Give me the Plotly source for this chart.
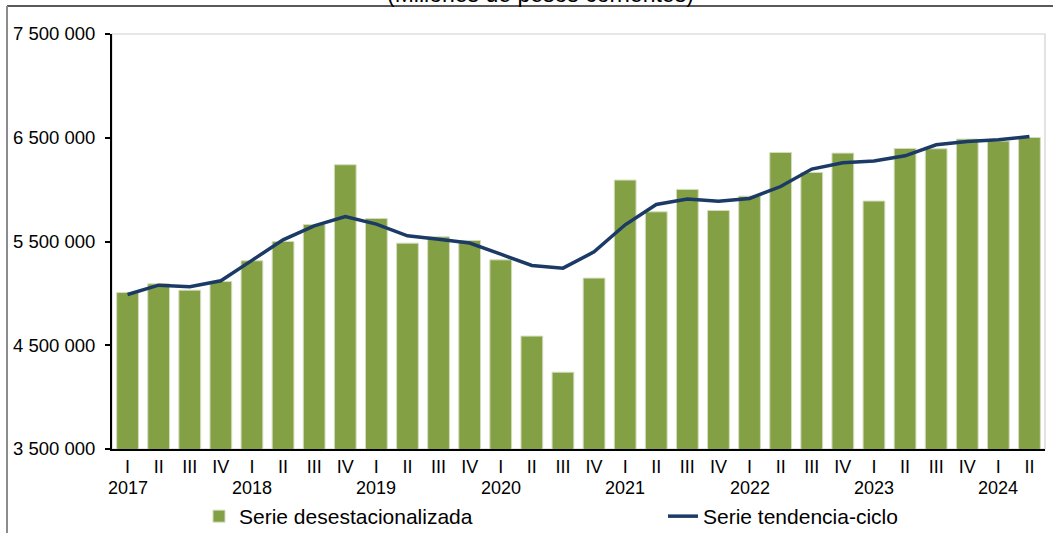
import plotly.graph_objects as go

quarters = ["I", "II", "III", "IV", "I", "II", "III", "IV", "I", "II", "III", "IV",
            "I", "II", "III", "IV", "I", "II", "III", "IV", "I", "II", "III", "IV",
            "I", "II", "III", "IV", "I", "II"]
years = ["2017", "2018", "2019", "2020", "2021", "2022", "2023", "2024"]

serie_desest = [5008000, 5092000, 5031000, 5114000, 5314000, 5500000, 5664000, 6240000,
                5722000, 5484000, 5545000, 5510000, 5323000, 4588000, 4240000, 5147000,
                6092000, 5786000, 6002000, 5799000, 5937000, 6358000, 6165000, 6352000,
                5890000, 6397000, 6394000, 6487000, 6468000, 6503000]
serie_tend = [4989000, 5079000, 5063000, 5121000, 5318000, 5516000, 5651000, 5741000,
              5667000, 5555000, 5522000, 5485000, 5378000, 5269000, 5243000, 5400000,
              5661000, 5857000, 5909000, 5889000, 5915000, 6030000, 6198000, 6259000,
              6275000, 6326000, 6432000, 6464000, 6480000, 6512000]

y_ticks = [3500000, 4500000, 5500000, 6500000, 7500000]
y_ticktext = ["3 500 000", "4 500 000", "5 500 000", "6 500 000", "7 500 000"]

FONT = "Liberation Sans, Arial, sans-serif"
GREEN = "#84A044"
NAVY = "#1C3A66"

n = len(quarters)
xs = list(range(n))
year_pos = [i for i, q in enumerate(quarters) if q == "I"]
boundaries = [p - 0.5 for p in year_pos]

fig = go.Figure()
fig.add_trace(go.Bar(
    x=xs, y=serie_desest, name="Serie desestacionalizada",
    marker=dict(color=GREEN, line=dict(color="#D3DDBE", width=1)),
    legend="legend",
))
fig.add_trace(go.Scatter(
    x=xs, y=serie_tend, name="Serie tendencia-ciclo", mode="lines",
    line=dict(color=NAVY, width=3.5),
    legend="legend2",
))

W, H = 1053, 533
L, R, T, B = 112, 8, 34, 84
pw, ph = W - L - R, H - T - B

def px_x(p):
    return (p - L) / pw

def px_y(p):
    return (H - B - p) / ph

annotations = [
    dict(x=p, y=px_y(488), xref="x", yref="paper", text=yr, showarrow=False,
         xanchor="center", yanchor="middle", font=dict(size=18, color="black", family=FONT))
    for p, yr in zip(year_pos, years)
]
annotations.append(dict(
    x=px_x(540), y=px_y(-6), xref="paper", yref="paper",
    text="(Millones de pesos corrientes)", showarrow=False,
    xanchor="center", yanchor="middle", font=dict(size=23, color="black", family=FONT)))

shapes = [
    dict(type="rect", xref="paper", yref="paper", x0=0, x1=1, y0=0, y1=1,
         line=dict(color="#D0D0D0", width=1.2), layer="below"),
    dict(type="line", xref="paper", yref="paper", x0=px_x(7), x1=px_x(1060),
         y0=px_y(6), y1=px_y(6), line=dict(color="#222222", width=1.5)),
    dict(type="line", xref="paper", yref="paper", x0=px_x(7), x1=px_x(7),
         y0=px_y(6), y1=px_y(540), line=dict(color="#8C8C8C", width=2)),
]

legend_common = dict(orientation="h", xanchor="left", yanchor="top",
                     font=dict(size=21, family=FONT, color="black"),
                     bgcolor="rgba(0,0,0,0)")

fig.update_layout(
    width=W, height=H,
    margin=dict(l=L, r=R, t=T, b=B, autoexpand=False),
    paper_bgcolor="white", plot_bgcolor="white",
    font=dict(family=FONT, color="black", size=18),
    bargap=0.30,
    showlegend=True,
    legend=dict(x=px_x(199), y=px_y(496), **legend_common),
    legend2=dict(x=px_x(663), y=px_y(496), **legend_common),
    xaxis=dict(range=[-0.5, n - 0.5], tickvals=xs, ticktext=quarters, ticks="",
               showline=True, linecolor="black", linewidth=2, showgrid=False,
               zeroline=False, tickfont=dict(size=18, family=FONT, color="black"),
               fixedrange=True),
    xaxis2=dict(overlaying="x", side="bottom", range=[-0.5, n - 0.5],
                tickvals=boundaries, ticks="outside", ticklen=16, tickwidth=1.5,
                tickcolor="black", showticklabels=False, showline=False,
                showgrid=False, zeroline=False),
    yaxis=dict(range=[3500000, 7500000], tickvals=y_ticks, ticktext=y_ticktext,
               ticks="outside", ticklen=5, tickwidth=1.5, tickcolor="black",
               ticklabelstandoff=6,
               showline=True, linecolor="black", linewidth=2, showgrid=False,
               zeroline=False, tickfont=dict(size=18.5, family=FONT, color="black")),
    annotations=annotations,
    shapes=shapes,
)

fig.write_html("out.html", config={"displayModeBar": False},
               post_script="document.body.style.margin='0px';document.body.style.overflow='hidden';")
